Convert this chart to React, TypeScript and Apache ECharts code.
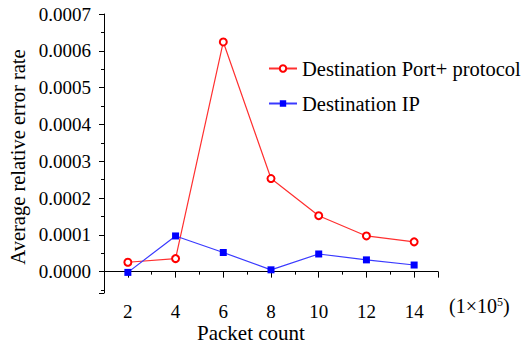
import React, { useEffect, useRef } from "react";
import * as echarts from "echarts";

const xValues = [2, 4, 6, 8, 10, 12, 14];
const portProtocol = [0.0000256, 0.0000355, 0.000624, 0.000253, 0.000152, 0.000097, 0.000081];
const destIP = [-0.000002, 0.000097, 0.000052, 0.000005, 0.000048, 0.000032, 0.000018];
const seriesNames = ["Destination Port+ protocol", "Destination IP"];
const yTitle = "Average relative error rate";
const xTitle = "Packet count";

const FONT = "Liberation Serif";

export default function App() {
  const ref = useRef<HTMLDivElement>(null);
  useEffect(() => {
    if (!ref.current) return;
    const chart = echarts.init(ref.current, null, { renderer: "svg" });
    chart.setOption({
      animation: false,
      backgroundColor: "#ffffff",
      textStyle: { fontFamily: FONT },
      grid: { left: 104, right: 85, top: 14, bottom: 54 },
      legend: {
        orient: "vertical",
        left: 263,
        top: 53,
        itemWidth: 28,
        itemHeight: 8,
        itemGap: 14,
        textStyle: { fontFamily: FONT, fontSize: 20.5, color: "#000" },
        data: seriesNames,
      },
      xAxis: {
        type: "value",
        min: 1,
        max: 15,
        splitNumber: 7,
        axisLine: { lineStyle: { color: "#000", width: 1 } },
        axisTick: { show: true, inside: false, length: 6, lineStyle: { color: "#000" } },
        minorTick: { show: true, splitNumber: 2, length: 3, lineStyle: { color: "#000" } },
        splitLine: { show: false },
        axisLabel: {
          showMinLabel: false,
          showMaxLabel: false,
          margin: 9,
          fontFamily: FONT,
          fontSize: 19,
          color: "#000",
        },
      },
      yAxis: {
        type: "value",
        min: -0.000058,
        max: 0.0007,
        splitNumber: 7,
        axisLine: { show: true, lineStyle: { color: "#000", width: 1 } },
        axisTick: { show: true, inside: false, length: 5, lineStyle: { color: "#000" } },
        minorTick: { show: true, splitNumber: 2, length: 3, lineStyle: { color: "#000" } },
        splitLine: { show: false },
        axisLabel: {
          showMinLabel: false,
          margin: 13,
          fontFamily: FONT,
          fontSize: 19,
          color: "#000",
          formatter: (v: number) => (Math.abs(v) < 1e-12 ? 0 : v).toFixed(4),
        },
      },
      series: [
        {
          name: seriesNames[0],
          type: "line",
          data: xValues.map((x, i) => [x, portProtocol[i]]),
          symbol: "emptyCircle",
          symbolSize: 7,
          color: "#ff0000",
          lineStyle: { color: "#ff3030", width: 1.2 },
          itemStyle: { color: "#ff0000", borderColor: "#ff0000", borderWidth: 1.2 },
        },
        {
          name: seriesNames[1],
          type: "line",
          data: xValues.map((x, i) => [x, destIP[i]]),
          symbol: "rect",
          symbolSize: 7,
          color: "#0000ff",
          lineStyle: { color: "#3a3aff", width: 1.2 },
          itemStyle: { color: "#0000ff" },
        },
      ],
      graphic: [
        {
          type: "text",
          x: 18,
          y: 157,
          rotation: Math.PI / 2,
          style: {
            text: yTitle,
            fontFamily: FONT,
            fontSize: 20.5,
            fill: "#000",
            align: "center",
            verticalAlign: "middle",
          },
        },
        {
          type: "text",
          left: 197,
          top: 322,
          style: { text: xTitle, fontFamily: FONT, fontSize: 21, fill: "#000" },
        },
        {
          type: "text",
          left: 449,
          top: 296,
          style: {
            text: "(1×10{s|5})",
            fontFamily: FONT,
            fontSize: 20,
            fill: "#000",
            rich: { s: { fontFamily: FONT, fontSize: 12, verticalAlign: "top", lineHeight: 14, padding: [0, 0, 8, 0] } },
          },
        },
      ],
    });
    return () => chart.dispose();
  }, []);
  return (
    <div
      ref={ref}
      style={{ position: "absolute", left: 0, top: 0, width: 523, height: 347 }}
    />
  );
}
